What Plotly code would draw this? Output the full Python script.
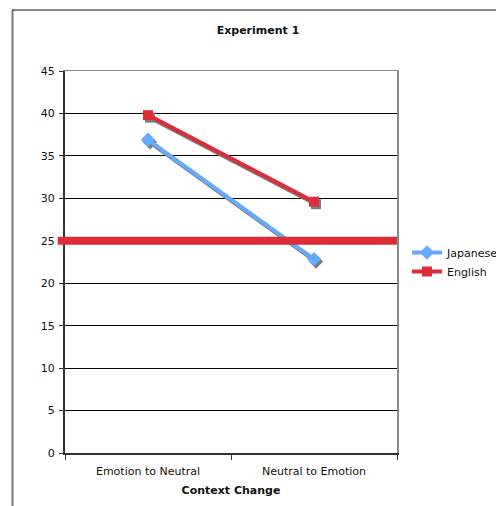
import plotly.graph_objects as go

# Data
categories = ["Emotion to Neutral", "Neutral to Emotion"]
japanese = [36.9, 22.85]
english = [39.8, 29.6]
chance_level = 25
y_ticks = [0, 5, 10, 15, 20, 25, 30, 35, 40, 45]

FONT = "DejaVu Sans, Verdana, sans-serif"
BLUE = "#66AAFF"
RED = "#DD2D39"
SHADOW = "#7c7c7c"

W, H = 496, 506
ML, MR, MT, MB = 65, 99, 71, 53
PW, PH = W - ML - MR, H - MT - MB

x_range = [-0.5, 1.5]
y_range = [0, 45]
# shadow offset: 2px right / 2.5px down, expressed in axis units
sx = 2 * (x_range[1] - x_range[0]) / PW
sy = 2.5 * (y_range[1] - y_range[0]) / PH

fig = go.Figure()

# placeholder that anchors the category axis
fig.add_trace(go.Scatter(x=categories, y=japanese, mode="lines", opacity=0,
                         line=dict(width=0), hoverinfo="skip", showlegend=False,
                         xaxis="x", yaxis="y"))

series = [
    ("Japanese", japanese, BLUE, "diamond", 11),
    ("English", english, RED, "square", 10),
]

# drop shadows
for name, vals, col, sym, size in series:
    fig.add_trace(go.Scatter(x=categories, y=vals, mode="lines+markers",
                             line=dict(color=SHADOW, width=4),
                             marker=dict(symbol=sym, size=size, color=SHADOW),
                             showlegend=False, hoverinfo="skip",
                             xaxis="x2", yaxis="y2"))

# series lines
for name, vals, col, sym, size in series:
    fig.add_trace(go.Scatter(x=categories, y=vals, mode="lines+markers", name=name,
                             line=dict(color=col, width=4),
                             marker=dict(symbol=sym, size=size, color=col),
                             xaxis="x3", yaxis="y3"))

# chance level line
fig.add_shape(type="line", xref="paper", yref="y", x0=-0.022, x1=1.0,
              y0=chance_level, y1=chance_level, layer="above",
              line=dict(color=RED, width=8))

# outer frame (left and top edges)
fig.add_shape(type="line", xref="paper", yref="paper",
              x0=(12.5 - ML) / PW, x1=(12.5 - ML) / PW,
              y0=(H - MB - 10) / PH, y1=-MB / PH - 0.01,
              line=dict(color="#7a7a7a", width=2))
fig.add_shape(type="line", xref="paper", yref="paper",
              x0=(12 - ML) / PW, x1=(W - ML) / PW + 0.01,
              y0=(H - MB - 10) / PH, y1=(H - MB - 10) / PH,
              line=dict(color="#111111", width=1))

fig.update_layout(
    width=W, height=H,
    margin=dict(l=ML, r=MR, t=MT, b=MB, autoexpand=False),
    paper_bgcolor="white", plot_bgcolor="white",
    font=dict(family=FONT, size=11, color="#111111"),
    title=dict(text="<b>Experiment 1</b>", x=(258 - ML) / PW * PW / W + ML / W,
               xanchor="center", y=1 - 30 / H, yanchor="middle",
               font=dict(family=FONT, size=11, color="#111111")),
    showlegend=True,
    legend=dict(x=1.03, y=0.5, xanchor="left", yanchor="middle",
                font=dict(family=FONT, size=11, color="#111111"),
                bgcolor="rgba(0,0,0,0)", tracegroupgap=0, itemsizing="trace",
                itemwidth=30),
    xaxis=dict(type="category", categoryorder="array", categoryarray=categories,
               range=x_range, showgrid=False, zeroline=False,
               showline=True, linecolor="#333333", linewidth=2,
               ticks="outside", tickson="boundaries", ticklen=5, tickcolor="#333333",
               ticklabelstandoff=7,
               tickfont=dict(family=FONT, size=11, color="#111111"),
               title=dict(text="<b>Context Change</b>", standoff=9,
                          font=dict(family=FONT, size=11, color="#111111"))),
    yaxis=dict(range=y_range, tickvals=y_ticks, showgrid=True, gridcolor="#000000",
               gridwidth=1, zeroline=False, showline=True, linecolor="#333333",
               linewidth=2, ticks="outside", ticklen=4, tickcolor="#333333",
               ticklabelstandoff=2,
               tickfont=dict(family=FONT, size=11, color="#111111")),
    xaxis2=dict(type="category", categoryorder="array", categoryarray=categories,
                overlaying="x", range=[x_range[0] - sx, x_range[1] - sx],
                visible=False),
    yaxis2=dict(overlaying="y", range=[y_range[0] + sy, y_range[1] + sy],
                visible=False),
    xaxis3=dict(type="category", categoryorder="array", categoryarray=categories,
                overlaying="x", side="top", range=x_range, showgrid=False,
                zeroline=False, showticklabels=False, ticks="",
                showline=True, linecolor="#8a8a8a", linewidth=1),
    yaxis3=dict(overlaying="y", side="right", range=y_range, showgrid=False,
                zeroline=False, showticklabels=False, ticks="",
                showline=True, linecolor="#8a8a8a", linewidth=2),
)

fig.write_html("out.html")
